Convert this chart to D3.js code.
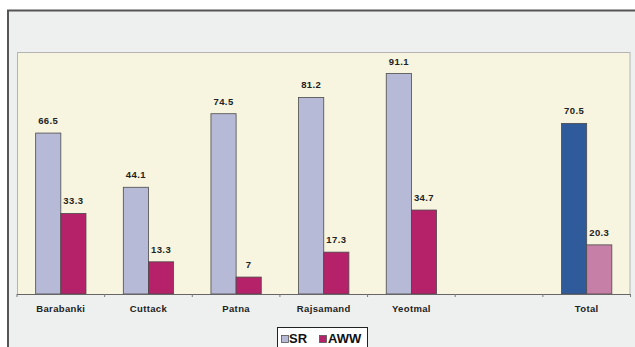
<!DOCTYPE html>
<html><head><meta charset="utf-8">
<script src="https://cdn.jsdelivr.net/npm/d3@7"></script>
<style>html,body{margin:0;padding:0;background:#fff;}svg{display:block;}</style>
</head><body>
<svg id="c" width="635" height="347"></svg>
<script>
const categories = ["Barabanki", "Cuttack", "Patna", "Rajsamand", "Yeotmal", "", "Total"];
const srValues = [66.5, 44.1, 74.5, 81.2, 91.1, null, 70.5];
const awwValues = [33.3, 13.3, 7, 17.3, 34.7, null, 20.3];
const seriesNames = ["SR", "AWW"];

const svg = d3.select("#c");
const W = 635, H = 347;
const plot = {x0: 17, x1: 630.5, y0: 52, y1: 294};

// outer frame
svg.append("rect").attr("x", 0).attr("y", 0).attr("width", W).attr("height", H).attr("fill", "#fff");
svg.append("rect").attr("x", 8).attr("y", 10.5).attr("width", W + 10).attr("height", H)
  .attr("fill", "#edf0ef").attr("stroke", "#555").attr("stroke-width", 2);

// plot area
svg.append("rect").attr("x", plot.x0 + 0.5).attr("y", plot.y0 + 0.5)
  .attr("width", plot.x1 - plot.x0 - 1).attr("height", plot.y1 - plot.y0)
  .attr("fill", "#f7f5df").attr("stroke", "#b4b4b4").attr("stroke-width", 1);

const x = d3.scaleBand().domain(d3.range(categories.length)).range([plot.x0, plot.x1]).padding(0);
const y = d3.scaleLinear().domain([0, 100]).range([plot.y1, plot.y0]);
const bw = x.bandwidth() * 0.287;

const rows = categories.map((c, i) => ({i, c, sr: srValues[i], aww: awwValues[i]}));
const isTotal = d => d.c === "Total";

const g = svg.append("g");
rows.filter(d => d.sr != null).forEach(d => {
  const cx = x(d.i) + x.bandwidth() / 2;
  const bars = [
    {v: d.sr, x: cx - bw, fill: isTotal(d) ? "#2f5b9b" : "#b7bad6"},
    {v: d.aww, x: cx, fill: isTotal(d) ? "#c67fa6" : "#b52269"}
  ];
  bars.forEach(b => {
    g.append("rect").attr("x", b.x).attr("y", y(b.v)).attr("width", bw).attr("height", y(0) - y(b.v))
      .attr("fill", b.fill).attr("stroke", "#4a4a4a").attr("stroke-width", 0.8);
    g.append("text").attr("x", b.x + bw / 2).attr("y", y(b.v) - 9)
      .attr("text-anchor", "middle").attr("font-family", "Liberation Sans, Arial, sans-serif")
      .attr("font-weight", "bold").attr("font-size", 9.5).attr("letter-spacing", 0.4)
      .attr("fill", "#222").text(b.v);
  });
});

// x axis
const axis = d3.axisBottom(x).tickSize(0).tickFormat(i => categories[i]);
const ax = svg.append("g").attr("transform", `translate(0,${plot.y1})`).call(axis);
ax.select(".domain").attr("stroke", "#666").attr("d", `M${plot.x0},0.5H${plot.x1}`);
ax.selectAll("text").attr("font-family", "Liberation Sans, Arial, sans-serif").attr("font-weight", "bold")
  .attr("font-size", 9.5).attr("letter-spacing", 0.35).attr("fill", "#222").attr("dy", 0).attr("y", 17.5);
// boundary ticks
const bounds = d3.range(categories.length + 1).map(i => plot.x0 + i * x.step());
svg.append("g").selectAll("line").data(bounds).join("line")
  .attr("x1", d => d).attr("x2", d => d).attr("y1", plot.y1).attr("y2", plot.y1 + 3)
  .attr("stroke", "#777").attr("stroke-width", 1);

// legend
const lg = svg.append("g");
lg.append("rect").attr("x", 277.5).attr("y", 327.5).attr("width", 90).attr("height", 30)
  .attr("fill", "#fff").attr("stroke", "#222").attr("stroke-width", 1);
const legendItems = [
  {name: seriesNames[0], fill: "#b7bad6", sx: 281, tx: 289},
  {name: seriesNames[1], fill: "#b52269", sx: 319, tx: 328}
];
legendItems.forEach(it => {
  lg.append("rect").attr("x", it.sx + 0.5).attr("y", 335.5).attr("width", 7).attr("height", 7)
    .attr("fill", it.fill).attr("stroke", "#555").attr("stroke-width", 0.8);
  lg.append("text").attr("x", it.tx).attr("y", 343).attr("font-family", "Liberation Sans, Arial, sans-serif")
    .attr("font-weight", "bold").attr("font-size", 13).attr("fill", "#111").text(it.name);
});
</script>
</body></html>
